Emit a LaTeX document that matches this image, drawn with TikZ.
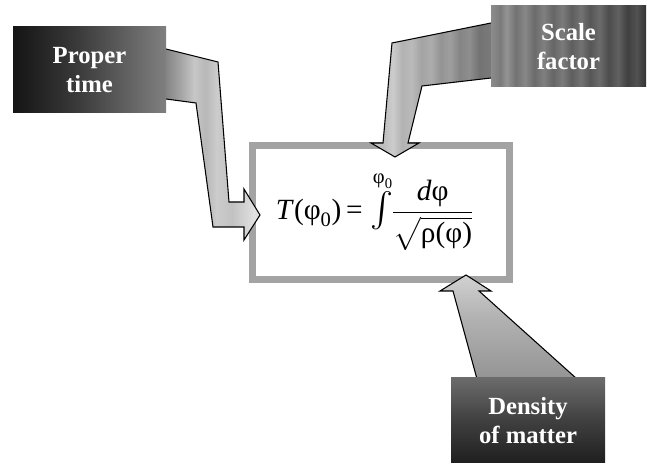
\documentclass[tikz,border=0pt]{standalone}
\usepackage{amsmath}
\usepackage{graphicx}
\usepackage{fontspec}
\setmainfont{Liberation Serif}
\definecolor{boxgray}{gray}{0.64}
\pgfdeclarehorizontalshading{ptboxsh}{100bp}{color(0bp)=(black!92); color(25bp)=(black!92); color(45bp)=(black!78); color(75bp)=(black!50); color(100bp)=(black!50)}
\pgfdeclarehorizontalshading{ptarrowsh}{100bp}{color(0bp)=(black!48); color(25bp)=(black!48); color(33bp)=(black!35); color(40bp)=(black!22); color(46bp)=(black!28); color(52bp)=(black!20); color(60bp)=(black!24); color(66bp)=(black!18); color(72bp)=(black!12); color(75bp)=(black!14); color(100bp)=(black!14)}
\pgfdeclarehorizontalshading{scboxsh}{100bp}{color(0bp)=(black!45); color(25bp)=(black!45); color(28bp)=(black!52); color(30bp)=(black!42); color(33bp)=(black!55); color(36bp)=(black!47); color(39bp)=(black!58); color(42bp)=(black!50); color(45bp)=(black!60); color(48bp)=(black!52); color(51bp)=(black!63); color(54bp)=(black!55); color(57bp)=(black!66); color(60bp)=(black!58); color(63bp)=(black!70); color(66bp)=(black!62); color(69bp)=(black!75); color(72bp)=(black!68); color(75bp)=(black!80); color(100bp)=(black!80)}
\pgfdeclarehorizontalshading{scarrowsh}{100bp}{color(0bp)=(black!22); color(25bp)=(black!22); color(30bp)=(black!26); color(34bp)=(black!20); color(38bp)=(black!30); color(42bp)=(black!27); color(46bp)=(black!36); color(50bp)=(black!32); color(54bp)=(black!42); color(58bp)=(black!38); color(62bp)=(black!48); color(66bp)=(black!44); color(70bp)=(black!55); color(75bp)=(black!52); color(100bp)=(black!52)}
\pgfdeclareverticalshading{dnarrowsh}{100bp}{color(0bp)=(black!42); color(25bp)=(black!42); color(40bp)=(black!36); color(55bp)=(black!30); color(65bp)=(black!24); color(75bp)=(black!18); color(100bp)=(black!18)}
\pgfdeclareverticalshading{dnboxsh}{100bp}{color(0bp)=(black!88); color(25bp)=(black!88); color(50bp)=(black!75); color(75bp)=(black!58); color(100bp)=(black!58)}
\newcommand\myphi{\text{φ}}
\tikzset{
  labelbox/.style={inner sep=0pt, align=center, text=white,
    font=\fontsize{18.5}{22}\selectfont\bfseries},
  arrowline/.style={draw=black, line width=0.8pt, line join=miter},
}
\begin{document}
\begin{tikzpicture}[x=0.75pt,y=-0.75pt]
\useasboundingbox (0,0) rectangle (647,466);
% main formula box
\node[draw=boxgray, line width=5.25pt, minimum width=192.4pt, minimum height=100.5pt, inner sep=0pt] (eqbox) at (380.75,212.5) {};
\node[inner sep=0pt] (formula) at (374,211) {\fontsize{22}{26}\selectfont\nulldelimiterspace=0pt $\displaystyle \text{\itshape T\/}\text{(}\myphi_{\text{0}}\text{)}\mskip3mu\text{=}\mskip2mu\mathop{\scalebox{1.25}{$\textstyle\int$}}\limits^{\mskip2mu\myphi_{\text{0}}}\mskip-3mu\frac{\text{\itshape d\/}\myphi}{\sqrt{\text{ρ(φ)}}}$};
% proper time arrow
\coordinate (pa1) at (166,49);
\coordinate (pa2) at (166,99);
\shade[shading=ptarrowsh] (pa1) -- (218,62) -- (229,202) -- (244,202) -- (244,189) -- (260,215) -- (244,240) -- (244,227) -- (213,227) -- (196,103) -- (pa2) -- cycle;
\draw[arrowline] (pa1) -- (218,62) -- (229,202) -- (244,202) -- (244,189) -- (260,215) -- (244,240) -- (244,227) -- (213,227) -- (196,103) -- (pa2);
% scale factor arrow
\coordinate (sa1) at (491,23);
\coordinate (sa2) at (491,78);
\shade[shading=scarrowsh] (sa1) -- (392,43) -- (383,143) -- (371,143) -- (395,157) -- (419,143) -- (408,143) -- (422,86) -- (sa2) -- cycle;
\draw[arrowline] (sa1) -- (392,43) -- (383,143) -- (371,143) -- (395,157) -- (419,143) -- (408,143) -- (422,86) -- (sa2);
% density arrow
\coordinate (da1) at (477,379);
\coordinate (da2) at (577,379);
\shade[shading=dnarrowsh] (da1) -- (453,291) -- (440,291) -- (466,275) -- (491,291) -- (479,291) -- (da2) -- cycle;
\draw[arrowline] (da1) -- (453,291) -- (440,291) -- (466,275) -- (491,291) -- (479,291) -- (da2);
% label boxes
\node[labelbox, shading=ptboxsh, minimum width=114.75pt, minimum height=64.5pt] (pt) at (89.5,70) {Proper\\time};
\node[labelbox, shading=scboxsh, minimum width=116.25pt, minimum height=60.75pt] (sc) at (568.5,46.5) {Scale\\factor};
\node[labelbox, shading=dnboxsh, minimum width=115.5pt, minimum height=63.75pt] (dn) at (528,420.5) {Density\\of matter};
\end{tikzpicture}
\end{document}
